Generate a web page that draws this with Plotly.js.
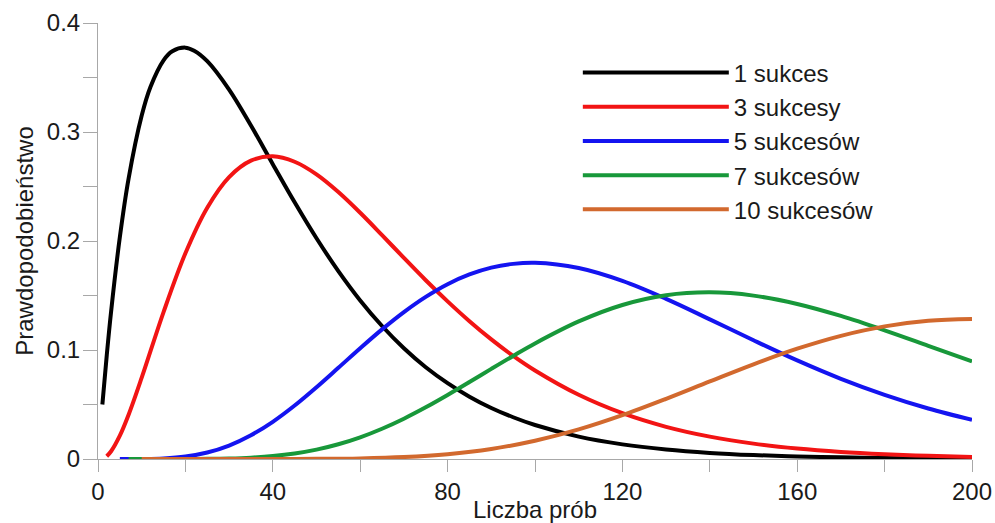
<!DOCTYPE html>
<html>
<head>
<meta charset="utf-8">
<script src="https://cdn.plot.ly/plotly-3.0.1.min.js"></script>
<style>html,body{margin:0;padding:0;background:#fff;}</style>
</head>
<body>
<div id="chart" style="width:995px;height:523px;"></div>
<script>
// Values
const seriesNames = ['1 sukces', '3 sukcesy', '5 sukcesów', '7 sukcesów', '10 sukcesów'];

const x1 = [1,2,3,5,7,10,12,15,17,20,22,25,30,35,40,45,50,55,60,65,70,75,80,85,90,95,100,110,120,130,140,150,160,170,180,190,200];
const y1 = [0.05,0.095,0.1354,0.2036,0.2573,0.3151,0.3413,0.3658,0.3741,0.3774,0.3746,0.3650,0.3389,0.3059,0.2705,0.2355,0.2025,0.1724,0.1455,0.1220,0.1016,0.0842,0.0696,0.0572,0.0468,0.0383,0.0312,0.0205,0.0134,0.0087,0.0056,0.0036,0.0023,0.0015,0.0009,0.0006,0.0004];

const x3 = [2,3,5,7,10,15,20,25,30,35,40,45,50,55,60,65,70,75,80,85,90,95,100,110,120,130,140,150,160,170,180,190,200];
const y3 = [0.0025,0.0071,0.0214,0.0406,0.0746,0.1348,0.1887,0.2305,0.2586,0.2737,0.2777,0.2727,0.2611,0.2449,0.2259,0.2054,0.1845,0.1640,0.1446,0.1264,0.1097,0.0946,0.0812,0.0589,0.0420,0.0295,0.0205,0.0141,0.0096,0.0065,0.0044,0.0029,0.0019];

const x5 = [5,10,15,20,25,30,35,40,45,50,55,60,65,70,75,80,85,90,95,100,110,120,130,140,150,160,170,180,190,200];
const y5 = [0.0000003,0.00006,0.00056,0.00225,0.00595,0.01235,0.02177,0.03415,0.04907,0.06584,0.08365,0.10162,0.11892,0.13481,0.14875,0.16039,0.16930,0.17554,0.17901,0.18003,0.17522,0.16340,0.14693,0.12815,0.10895,0.09045,0.07358,0.05887,0.04631,0.03594];

const x7 = [7,10,15,20,25,30,35,40,45,50,55,60,65,70,75,80,85,90,95,100,110,120,130,140,150,160,170,180,190,200];
const y7 = [0.0000000008,0.00000008,0.0000033,0.0000311,0.000149,0.000489,0.00125,0.00268,0.00505,0.0086,0.01352,0.0199,0.02777,0.03699,0.04739,0.05871,0.07057,0.08267,0.09457,0.10603,0.12620,0.14129,0.15021,0.15287,0.14989,0.14227,0.13125,0.11808,0.10387,0.08956];

const x10 = [10,20,30,40,50,60,70,80,90,100,110,120,130,140,150,160,170,180,190,200];
const y10 = [0.0000000000001,0.00000001,0.00000105,0.0000178,0.000129,0.000567,0.00178,0.00444,0.00923,0.01672,0.02712,0.04019,0.05523,0.07119,0.08690,0.10117,0.11299,0.12166,0.12680,0.12836];

const xTickVals = [0,40,80,120,160,200];
const yTickVals = [0,0.1,0.2,0.3,0.4];

const colors = ['#000000','#f21414','#1414f0','#18983a','#d2692e'];
const xs = [x1,x3,x5,x7,x10];
const ys = [y1,y3,y5,y7,y10];

const traces = xs.map((xv, i) => ({
  type: 'scatter', mode: 'lines', x: xv, y: ys[i], name: seriesNames[i],
  legendgroup: 'g' + i,
  line: {color: colors[i], width: 4, shape: 'spline', smoothing: 1},
  hoverinfo: 'skip'
}));

const axisColor = '#a8a8a8';
const layout = {
  width: 995, height: 523,
  margin: {l: 98, r: 23, t: 23, b: 64},
  paper_bgcolor: '#ffffff', plot_bgcolor: '#ffffff',
  font: {family: '"Liberation Sans", Arial, sans-serif', size: 24, color: '#1a1a1a'},
  showlegend: true,
  legend: {
    x: 0.549, y: 0.937, xanchor: 'left', yanchor: 'top',
    itemwidth: 146, bgcolor: 'rgba(0,0,0,0)', borderwidth: 0,
    tracegroupgap: 0, traceorder: 'grouped',
    font: {size: 24, color: '#1a1a1a'}
  },
  xaxis: {
    range: [0, 200], tickmode: 'array', tickvals: xTickVals,
    ticks: 'outside', ticklen: 5, tickwidth: 1, tickcolor: axisColor,
    minor: {tickmode: 'linear', tick0: 0, dtick: 20, ticks: 'outside', ticklen: 12, tickwidth: 1, tickcolor: axisColor, showgrid: false},
    showline: true, linecolor: axisColor, linewidth: 1,
    showgrid: false, zeroline: false, automargin: false,
    ticklabelstandoff: 6,
    title: {text: 'Liczba prób', standoff: 2, font: {size: 24}}
  },
  yaxis: {
    range: [0, 0.4], tickmode: 'array', tickvals: yTickVals,
    ticks: 'outside', ticklen: 8, tickwidth: 1, tickcolor: axisColor,
    minor: {tickmode: 'linear', tick0: 0, dtick: 0.05, ticks: 'outside', ticklen: 14, tickwidth: 1, tickcolor: axisColor, showgrid: false},
    showline: true, linecolor: axisColor, linewidth: 1,
    showgrid: false, zeroline: false, automargin: false,
    ticklabelstandoff: 4,
    title: {text: 'Prawdopodobieństwo', standoff: 6, font: {size: 24}}
  }
};

Plotly.newPlot('chart', traces, layout, {staticPlot: true, displayModeBar: false});
</script>
</body>
</html>
